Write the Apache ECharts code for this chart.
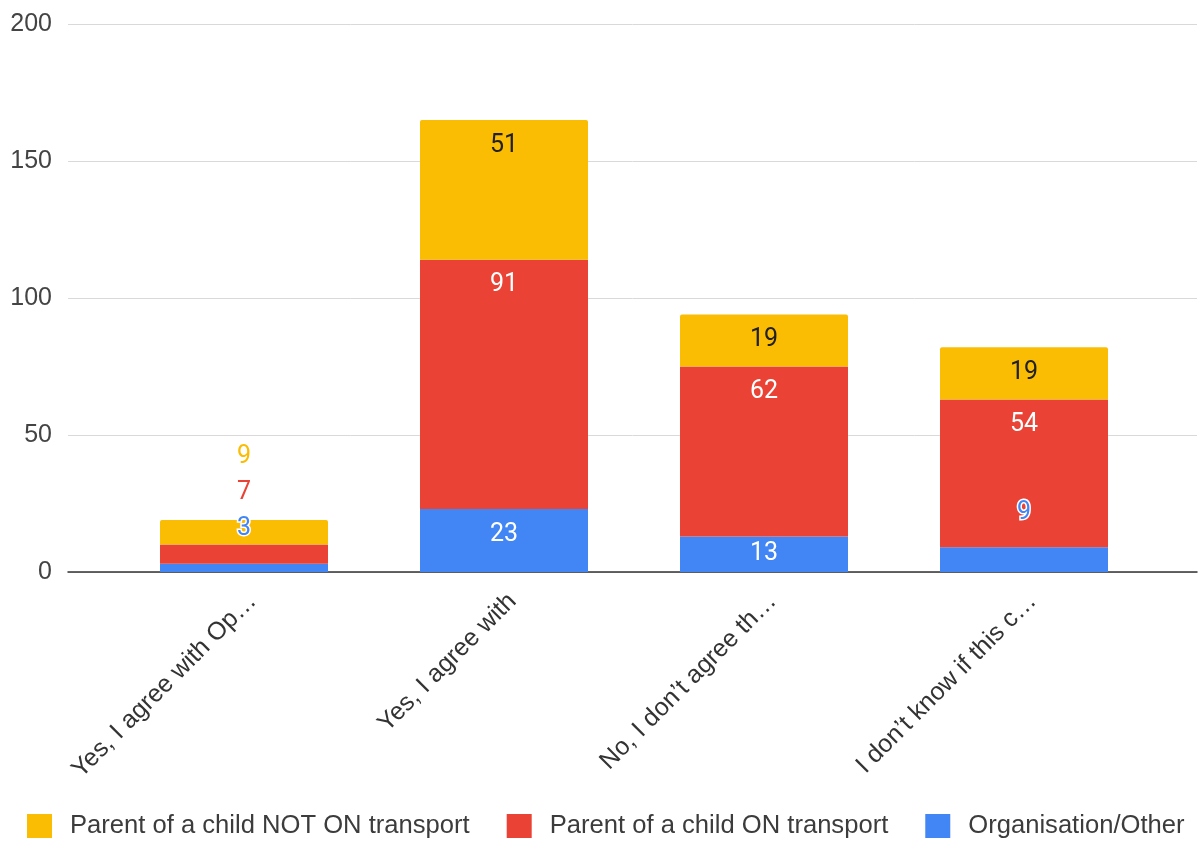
<!DOCTYPE html>
<html>
<head>
<meta charset="utf-8">
<title>Responses by respondent type</title>
<script src="https://cdn.jsdelivr.net/npm/echarts@6/dist/echarts.min.js"></script>
<style>
  html, body { margin: 0; padding: 0; background: #fff; }
  #chart { width: 1202px; height: 841px; }
</style>
</head>
<body>
<div id="chart"></div>
<script>
// Answer categories (as shown on the axis)
const categories = [
  'Yes, I agree with Op\u2026',
  'Yes, I agree with',
  'No, I don\u2019t agree th\u2026',
  'I don\u2019t know if this c\u2026'
];

// Respondent groups, stacked bottom to top
const organisationOther = [3, 23, 13, 9];
const parentOnTransport = [7, 91, 62, 54];
const parentNotOnTransport = [9, 51, 19, 19];

const yTicks = [0, 50, 100, 150, 200];

const COLORS = {
  not: '#FBBC04',
  on: '#EA4335',
  org: '#4285F4'
};

const LABEL_FONT = 'Roboto, "Noto Sans", sans-serif';
const AXIS_FONT = '"Liberation Sans", Arial, sans-serif';
const FONT_SIZE = 25;

// Labels for segments too thin to hold their value sit above the bar
function outsideLabel(color, dy) {
  return {
    position: ['50%', dy],
    align: 'center',
    verticalAlign: 'middle',
    color: color,
    textBorderColor: '#fff',
    textBorderWidth: 3
  };
}

const labelOverrides = {
  org: { 0: outsideLabel(COLORS.org, -35), 2: { position: 'inside' }, 3: outsideLabel(COLORS.org, -35) },
  on: { 0: outsideLabel(COLORS.on, -52) },
  not: { 0: outsideLabel(COLORS.not, -63) }
};

function buildData(values, key) {
  return values.map((v, i) => {
    const item = { value: v };
    if (labelOverrides[key][i]) item.label = labelOverrides[key][i];
    return item;
  });
}

function barSeries(name, values, key, textColor, isTop) {
  return {
    name: name,
    type: 'bar',
    stack: 'total',
    xAxisIndex: 1,
    yAxisIndex: 1,
    barWidth: 168,
    itemStyle: {
      color: COLORS[key],
      borderRadius: isTop ? [2, 2, 0, 0] : 0
    },
    label: {
      show: true,
      position: 'insideTop',
      distance: 13,
      color: textColor,
      fontFamily: LABEL_FONT,
      fontSize: FONT_SIZE
    },
    emphasis: { disabled: true },
    data: buildData(values, key)
  };
}

const chart = echarts.init(document.getElementById('chart'), null, { renderer: 'canvas' });

chart.setOption({
  animation: false,
  backgroundColor: '#fff',
  legend: {
    left: 27,
    top: 813,
    padding: 0,
    itemWidth: 25,
    itemHeight: 24,
    itemGap: 37,
    icon: 'rect',
    textStyle: {
      fontFamily: AXIS_FONT,
      fontSize: 25.6,
      color: '#3c3c3c',
      padding: [0, 0, 0, 13]
    },
    data: ['Parent of a child NOT ON transport', 'Parent of a child ON transport', 'Organisation/Other']
  },
  grid: [
    // full-width frame carrying the value axis and gridlines
    { left: 68, right: 5, top: 24, bottom: 269 },
    // category area holding the bars
    { left: 114, right: 48, top: 24, bottom: 269 }
  ],
  xAxis: [
    {
      type: 'value',
      gridIndex: 0,
      min: 0,
      max: 1,
      axisLine: { show: true, onZero: true, lineStyle: { color: '#333', width: 1.5 } },
      axisTick: { show: false },
      axisLabel: { show: false },
      splitLine: { show: false }
    },
    {
      type: 'category',
      gridIndex: 1,
      data: categories,
      axisLine: { show: false },
      axisTick: { show: false },
      axisLabel: {
        rotate: 45,
        interval: 0,
        margin: 17,
        // a leading blank line nudges the slanted text slightly right of the tick
        formatter: (v) => '\n' + v,
        lineHeight: 24,
        fontFamily: AXIS_FONT,
        fontSize: FONT_SIZE,
        color: '#333'
      }
    }
  ],
  yAxis: [
    {
      type: 'value',
      gridIndex: 0,
      min: yTicks[0],
      max: yTicks[yTicks.length - 1],
      interval: yTicks[1] - yTicks[0],
      axisLine: { show: false },
      axisTick: { show: false },
      axisLabel: {
        margin: 16,
        fontFamily: AXIS_FONT,
        fontSize: FONT_SIZE,
        color: '#444'
      },
      splitLine: { lineStyle: { color: '#d9d9d9', width: 1 } }
    },
    {
      type: 'value',
      gridIndex: 1,
      min: yTicks[0],
      max: yTicks[yTicks.length - 1],
      show: false,
      splitLine: { show: false }
    }
  ],
  series: [
    barSeries('Organisation/Other', organisationOther, 'org', '#fff', false),
    barSeries('Parent of a child ON transport', parentOnTransport, 'on', '#fff', false),
    barSeries('Parent of a child NOT ON transport', parentNotOnTransport, 'not', '#212121', true)
  ]
});
</script>
</body>
</html>
